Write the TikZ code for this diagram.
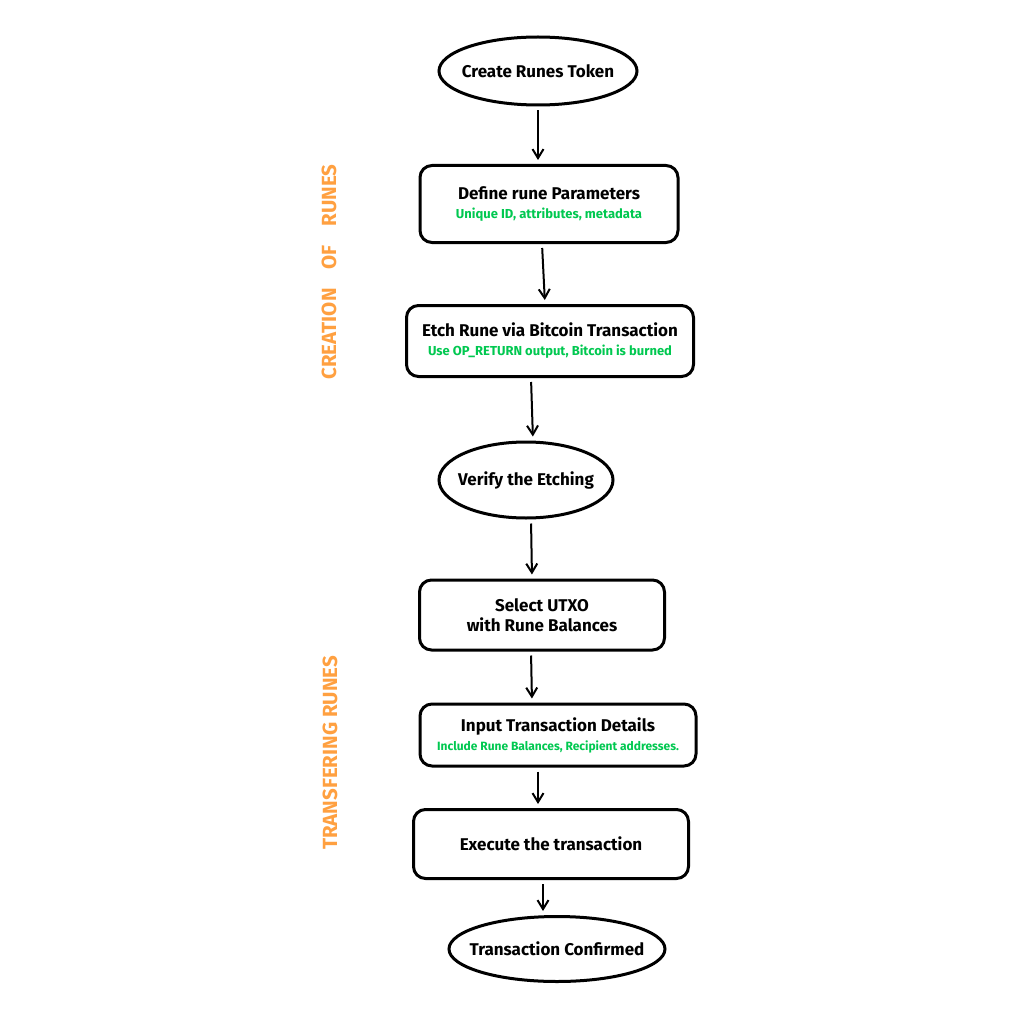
\documentclass[tikz,border=0pt]{standalone}
\usepackage{fontspec}
\setsansfont{Fira Sans}
\usetikzlibrary{arrows.meta, shapes.geometric}

\definecolor{subgreen}{RGB}{0,200,80}
\definecolor{laneorange}{RGB}{255,160,64}
\newcommand{\subline}[2][13]{\textcolor{subgreen}{\fontsize{#1}{15}\selectfont #2}}

\begin{document}
\begin{tikzpicture}[
    x=1pt, y=-1pt,
    font=\sffamily\bfseries\fontsize{17}{20}\selectfont,
    stepbox/.style={draw, line width=3pt, rounded corners=12pt, align=center,
      inner sep=0pt},
    terminal/.style={draw, ellipse, line width=3pt, align=center,
      inner xsep=-12pt, inner ysep=0pt},
    lane/.style={text=laneorange, rotate=90,
      font=\sffamily\bfseries\fontsize{20.5}{24}\selectfont},
    arr/.style={-{Straight Barb[length=9pt, width=11pt]}, line width=2pt,
      shorten <=4pt, shorten >=4pt}
  ]
  \useasboundingbox[fill=white] (0,0) rectangle (1024,1024);

  \node[terminal, minimum width=198pt, minimum height=68pt] (create) at (538,71) {Create Runes Token};
  \node[stepbox, minimum width=258pt, minimum height=77pt] (define) at (549,204)
    {Define rune Parameters\\[-1pt] \subline{Unique ID, attributes, metadata}};
  \node[stepbox, minimum width=287pt, minimum height=71pt] (etch) at (550,341)
    {Etch Rune via Bitcoin Transaction\\[-1pt] \subline{Use OP\_RETURN output, Bitcoin is burned}};
  \node[terminal, minimum width=174pt, minimum height=76pt] (verify) at (526,480) {Verify the Etching};
  \node[stepbox, minimum width=245pt, minimum height=70pt] (select) at (542,615)
    {Select UTXO\\ with Rune Balances};
  \node[stepbox, minimum width=276pt, minimum height=62pt] (input) at (558,735)
    {Input Transaction Details\\[-1pt] \subline[12]{Include Rune Balances, Recipient addresses.}};
  \node[stepbox, minimum width=275pt, minimum height=69pt] (exec) at (551,844) {Execute the transaction};
  \node[terminal, minimum width=216pt, minimum height=65pt] (done) at (557,949) {Transaction Confirmed};

  \node[lane] (creation) at (329,272) {CREATION\hspace{19pt}OF\hspace{19pt}RUNES};
  \node[lane] (transfer) at (330,753) {TRANSFERING RUNES};

  \draw[arr] (create) -- (create |- define.north);
  \draw[arr] ([xshift=-7pt]define.south) -- ([xshift=-4pt]define.south |- etch.north);
  \draw[arr] ([xshift=-19pt]etch.south) -- ([xshift=-17pt]etch.south |- verify.north);
  \draw[arr] (verify.south -| 531,0) -- (select.north -| 532,0);
  \draw[arr] ([xshift=-11pt]select.south) -- ([xshift=-10pt]select.south |- input.north);
  \draw[arr] ([xshift=-20pt]input.south) -- ([xshift=-20pt]input.south |- exec.north);
  \draw[arr] ([xshift=-8pt]exec.south) -- ([xshift=-8pt]exec.south |- done.north);
\end{tikzpicture}
\end{document}
